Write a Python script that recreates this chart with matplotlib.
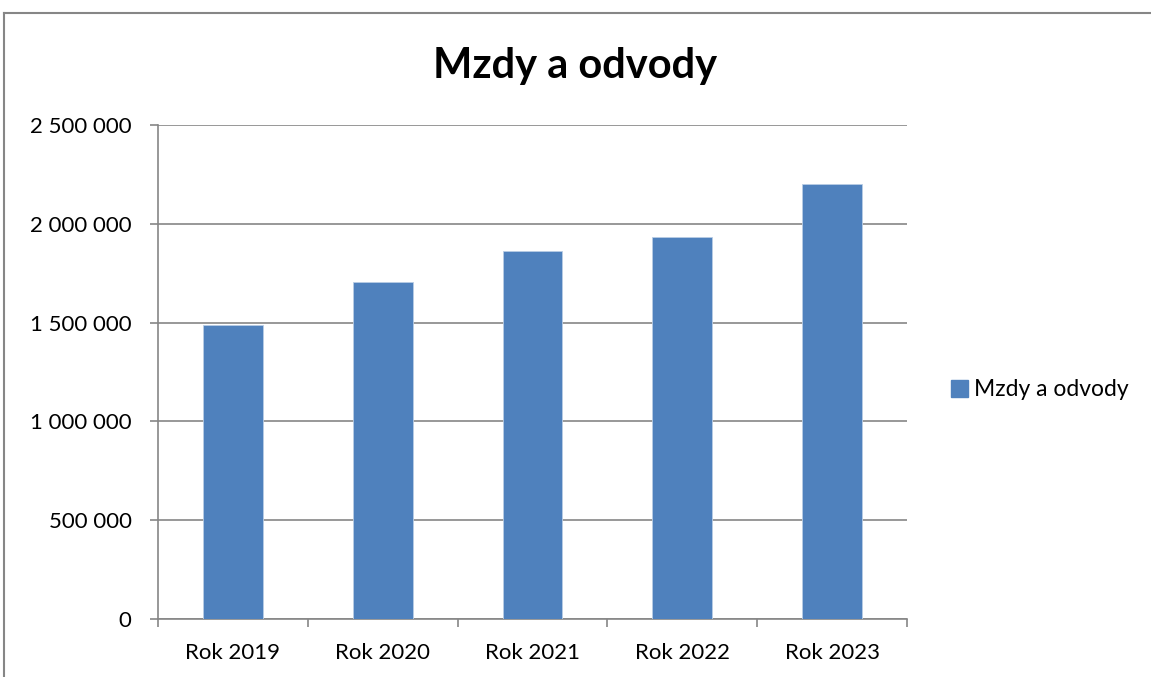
import matplotlib.pyplot as plt
import numpy as np
from matplotlib.lines import Line2D
from matplotlib.patches import Patch

years = ["Rok 2019", "Rok 2020", "Rok 2021", "Rok 2022", "Rok 2023"]
values = [1486000, 1705000, 1864000, 1934000, 2200000]
series_name = "Mzdy a odvody"
yticks = [0, 500000, 1000000, 1500000, 2000000, 2500000]

plt.rcParams["font.family"] = ["Lato", "DejaVu Sans"]

fig = plt.figure(figsize=(11.51, 6.77), dpi=100)
ax = fig.add_axes([158 / 1151, 58 / 677, 749 / 1151, 494 / 677])

x = np.arange(len(years))
ax.bar(x, values, width=0.4, color="#4F81BD", edgecolor="#B9CDE5", linewidth=0.6, zorder=3)

ax.set_xlim(-0.5, len(years) - 0.5)
ax.set_ylim(0, 2500000)
ax.set_yticks(yticks)
ax.set_yticklabels([f"{v:,}".replace(",", " ") for v in yticks], fontsize=16)
ax.set_xticks(x)
ax.set_xticklabels(years, fontsize=16)
ax.set_xticks(np.arange(-0.5, len(years)), minor=True)
ax.tick_params(axis="x", which="major", length=0, pad=17)
ax.tick_params(axis="x", which="minor", length=6, color="#868686", width=1.2)
ax.tick_params(axis="y", length=6, color="#868686", width=1.2, pad=13)

ax.yaxis.grid(True, color="#868686", linewidth=1.2, zorder=0)
for s in ["top", "right"]:
    ax.spines[s].set_visible(False)
for s in ["left", "bottom"]:
    ax.spines[s].set_color("#868686")
    ax.spines[s].set_linewidth(1.2)

fig.text(0.5, 1 - 66 / 677, series_name, ha="center", va="center",
         fontsize=30, fontweight="bold")

handle = Patch(facecolor="#4F81BD", edgecolor="#4F81BD")
fig.legend([handle], [series_name], loc="center left",
           bbox_to_anchor=(930 / 1151, 1 - 390 / 677), frameon=False,
           fontsize=16.5, handlelength=0.75, handleheight=0.75, handletextpad=0.25)

# outer chart frame (cut at right and bottom)
fig.add_artist(Line2D([4 / 1151, 4 / 1151], [0, 1 - 13 / 677], transform=fig.transFigure,
                      color="#868686", linewidth=1.5))
fig.add_artist(Line2D([4 / 1151, 1], [1 - 13 / 677, 1 - 13 / 677], transform=fig.transFigure,
                      color="#868686", linewidth=1.5))

fig.savefig("out.png", dpi=100)
